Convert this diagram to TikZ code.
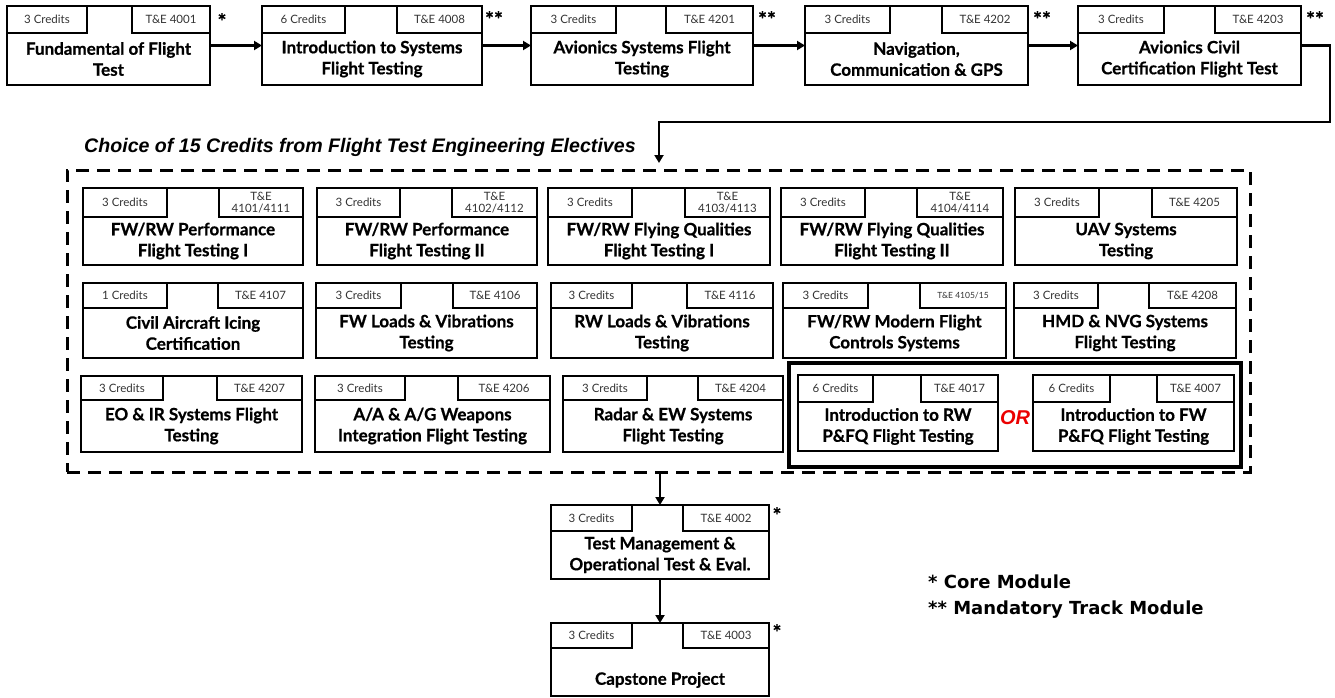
\documentclass[tikz,border=0pt]{standalone}
\usepackage{fontspec}
\setmainfont{Lato}[BoldFeatures={FakeBold=0.7}]
\newfontfamily\arialf{Liberation Sans}
\newfontfamily\dejaf{DejaVu Sans}
\usetikzlibrary{arrows.meta,fit,calc}
\definecolor{orred}{RGB}{235,0,0}
\tikzset{
  cbox/.style={draw=black, line width=2.6pt, inner sep=0pt, outer sep=0pt},
  cred/.style={font=\fontsize{11.5}{12}\selectfont, align=center, inner sep=0pt, text=black!80},
  ctitle/.style={font=\bfseries\fontsize{17}{21}\selectfont, align=center, inner sep=0pt},
  tadj/.style={},
  conn/.style={line width=2.6pt, -{Triangle[length=8pt,width=9pt]}},
  dashbox/.style={draw=black, line width=3pt, dash pattern=on 13pt off 8pt, inner sep=0pt, outer sep=0pt},
  starmark/.style={font=\bfseries\fontsize{21}{21}\selectfont, anchor=base, inner sep=0pt},
  elabel/.style={font=\arialf\bfseries\itshape\fontsize{19.6}{20}\selectfont, anchor=base west, inner sep=0pt},
  legend/.style={font=\dejaf\bfseries\fontsize{18}{20}\selectfont, anchor=base west, inner sep=0pt},
  ortext/.style={font=\arialf\bfseries\itshape\fontsize{20}{20}\selectfont, text=orred, inner sep=0pt},
}
% #1 name, #2 x1,y1, #3 x2,y2, #4 credits box right x, #5 code box left x, #6 sub-box bottom y,
% #7 credits, #8 code, #9 title
\newcommand\course[9]{%
  \node[cbox, fit={(#2)(#3)}] (#1) {};
  \node[cbox, fit={(#1.north west)(#4,#6)}] (#1c) {};
  \node[cbox, fit={(#1.north east)(#5,#6)}] (#1d) {};
  \node[cred] (#1cl) at (#1c) {#7};
  \node[cred] (#1dl) at (#1d) {#8};
  \node[ctitle, tadj] (#1t) at ($(#1.south)!0.5!(#1.north |- 0,#6)$) {#9};
}
\begin{document}
\begin{tikzpicture}[x=1pt, y=-1pt, line join=miter]
\useasboundingbox (0,0) rectangle (1335,698);

% top row
\course{b1}{7,6}{210,85}{87}{132}{33}{3 Credits}{T\&E 4001}{Fundamental of Flight\\Test}
\course{b2}{262,6}{482,85}{345}{397}{33}{6 Credits}{T\&E 4008}{Introduction to Systems\\Flight Testing}
\course{b3}{531,6}{753,85}{616}{666}{33}{3 Credits}{T\&E 4201}{Avionics Systems Flight\\Testing}
\course{b4}{805,6}{1028,85}{890}{942}{33}{3 Credits}{T\&E 4202}{Navigation,\\Communication \& GPS}
\course{b5}{1078,6}{1301,85}{1164}{1215}{33}{3 Credits}{T\&E 4203}{Avionics Civil\\Certification Flight Test}

\node[starmark] (s1) at (222,29) {*};
\node[starmark] (s2) at (494,27) {**};
\node[starmark] (s3) at (767,27) {**};
\node[starmark] (s4) at (1042,27) {**};
\node[starmark] (s5) at (1315,27) {**};

\draw[conn] (b1) -- (b2);
\draw[conn] (b2) -- (b3);
\draw[conn] (b3) -- (b4);
\draw[conn] (b4) -- (b5);

% electives
\node[elabel] (etitle) at (84,153) {Choice of 15 Credits from Flight Test Engineering Electives};
\node[dashbox, fit={(67,170)(1250,472)}] (elec) {};

\coordinate (t1) at (1330,122);
\coordinate (t2) at (659,122);
\draw[conn, shorten >=7pt] (b5.east) -| (t1) -- (t2) -- (t2 |- elec.north);

\course{e11}{83,188}{303,265}{167}{219}{217}{3 Credits}{T\&E\\4101/4111}{FW/RW Performance\\Flight Testing I}
\course{e12}{317,188}{537,265}{400}{452}{217}{3 Credits}{T\&E\\4102/4112}{FW/RW Performance\\Flight Testing II}
\course{e13}{548,188}{770,265}{632}{685}{217}{3 Credits}{T\&E\\4103/4113}{FW/RW Flying Qualities\\Flight Testing I}
\course{e14}{781,188}{1003,265}{865}{917}{217}{3 Credits}{T\&E\\4104/4114}{FW/RW Flying Qualities\\Flight Testing II}
\course{e15}{1015,188}{1237,265}{1099}{1152}{217}{3 Credits}{T\&E 4205}{UAV Systems\\Testing}

\course{e21}{83,283}{303,358}{167}{218}{308}{1 Credits}{T\&E 4107}{Civil Aircraft Icing\\Certification}
\course{e22}{316,283}{537,358}{401}{453}{308}{3 Credits}{T\&E 4106}{FW Loads \& Vibrations\\Testing}
\course{e23}{551,283}{773,358}{632}{687}{308}{3 Credits}{T\&E 4116}{RW Loads \& Vibrations\\Testing}
\course{e24}{783,283}{1006,358}{868}{920}{308}{3 Credits}{{\fontsize{8.5}{9}\selectfont T\&E 4105/15}}{FW/RW Modern Flight\\Controls Systems}
\course{e25}{1014,283}{1236,358}{1098}{1149}{308}{3 Credits}{T\&E 4208}{HMD \& NVG Systems\\Flight Testing}

\course{e31}{81,376}{302,452}{163}{217}{400}{3 Credits}{T\&E 4207}{EO \& IR Systems Flight\\Testing}
\course{e32}{315,376}{550,452}{405}{458}{400}{3 Credits}{T\&E 4206}{A/A \& A/G Weapons\\Integration Flight Testing}
\course{e33}{563,376}{783,452}{647}{698}{400}{3 Credits}{T\&E 4204}{Radar \& EW Systems\\Flight Testing}

\node[cbox, line width=4pt, fit={(789,363)(1241,467)}] (orgrp) {};
\course{o1}{798,375}{998,451}{873}{921}{402}{6 Credits}{T\&E 4017}{Introduction to RW\\P\&FQ Flight Testing}
\course{o2}{1033,375}{1234,451}{1110}{1157}{402}{6 Credits}{T\&E 4007}{Introduction to FW\\P\&FQ Flight Testing}
\node[ortext] (ortxt) at (1015,418) {OR};

% bottom
\course{tm}{551,505}{769,579}{632}{683}{531}{3 Credits}{T\&E 4002}{Test Management \&\\Operational Test \& Eval.}
\tikzset{tadj/.style={yshift=-8pt}}
\course{cp}{551,623}{769,696}{632}{683}{648}{3 Credits}{T\&E 4003}{Capstone Project}
\tikzset{tadj/.style={}}
\node[starmark] (s6) at (777,523) {*};
\node[starmark] (s7) at (777,640) {*};

\draw[conn] (elec.south -| tm.north) -- (tm.north);
\draw[conn] (tm) -- (cp);

% legend
\node[legend] (leg1) at (928,588) {* Core Module};
\node[legend] (leg2) at (928,614) {** Mandatory Track Module};
\end{tikzpicture}
\end{document}
